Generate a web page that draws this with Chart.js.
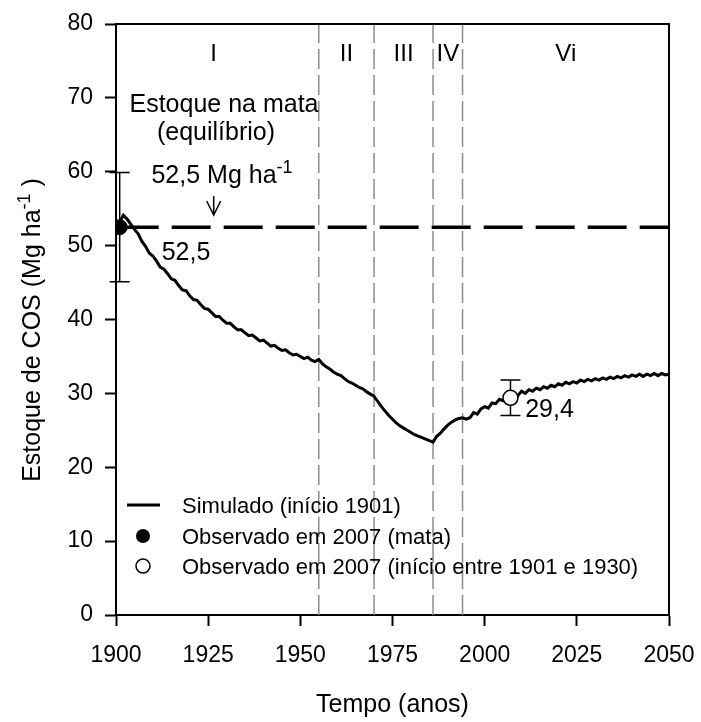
<!DOCTYPE html>
<html>
<head>
<meta charset="utf-8">
<script src="https://cdn.jsdelivr.net/npm/chart.js@4"></script>
<style>
  body { margin: 0; background: #fff; }
  #box { width: 701px; height: 722px; }
</style>
</head>
<body>
<div id="box"><canvas id="myChart"></canvas></div>
<script>
// Estoque de COS simulado (início 1901)
const anos = [
  1901, 1902, 1903, 1904, 1905, 1906, 1907, 1908, 1909, 1910,
  1911, 1912, 1913, 1914, 1915, 1916, 1917, 1918, 1919, 1920,
  1921, 1922, 1923, 1924, 1925, 1926, 1927, 1928, 1929, 1930,
  1931, 1932, 1933, 1934, 1935, 1936, 1937, 1938, 1939, 1940,
  1941, 1942, 1943, 1944, 1945, 1946, 1947, 1948, 1949, 1950,
  1951, 1952, 1953, 1954, 1955, 1956, 1957, 1958, 1959, 1960,
  1961, 1962, 1963, 1964, 1965, 1966, 1967, 1968, 1969, 1970,
  1971, 1972, 1973, 1974, 1975, 1976, 1977, 1978, 1979, 1980,
  1981, 1982, 1983, 1984, 1985, 1986, 1987, 1988, 1989, 1990,
  1991, 1992, 1993, 1994, 1995, 1996, 1997, 1998, 1999, 2000,
  2001, 2002, 2003, 2004, 2005, 2006, 2007, 2008, 2009, 2010,
  2011, 2012, 2013, 2014, 2015, 2016, 2017, 2018, 2019, 2020,
  2021, 2022, 2023, 2024, 2025, 2026, 2027, 2028, 2029, 2030,
  2031, 2032, 2033, 2034, 2035, 2036, 2037, 2038, 2039, 2040,
  2041, 2042, 2043, 2044, 2045, 2046, 2047, 2048, 2049, 2050
];
const estoqueSimulado = [
  53.2, 54.1, 53.6, 52.9, 52.2, 51.6, 50.6, 49.9, 49.0, 48.6,
  47.9, 47.1, 46.8, 46.2, 45.5, 45.3, 44.6, 44.0, 43.9, 43.2,
  42.7, 42.6, 42.0, 41.5, 41.4, 40.9, 40.4, 40.4, 39.9, 39.5,
  39.5, 39.0, 38.6, 38.6, 38.2, 37.8, 37.9, 37.5, 37.1, 37.2,
  36.8, 36.4, 36.5, 36.1, 35.8, 35.9, 35.5, 35.2, 35.3, 35.0,
  34.7, 34.9, 34.5, 34.3, 34.6, 34.0, 33.6, 33.3, 32.9, 32.6,
  32.4, 32.0, 31.6, 31.4, 31.1, 30.8, 30.6, 30.2, 29.9, 29.6,
  28.9, 28.2, 27.6, 27.0, 26.5, 26.0, 25.6, 25.3, 25.0, 24.7,
  24.4, 24.2, 24.0, 23.8, 23.6, 23.4, 24.2, 24.6, 25.2, 25.7,
  26.1, 26.4, 26.6, 26.7, 26.5, 26.7, 27.4, 27.2, 27.9, 28.2,
  28.0, 28.7, 28.6, 29.2, 29.0, 29.5, 29.3, 29.9, 29.7, 30.3,
  30.0, 30.5, 30.3, 30.7, 30.5, 30.9, 30.7, 31.1, 30.9, 31.3,
  31.1, 31.5, 31.3, 31.6, 31.4, 31.8, 31.6, 31.9, 31.7, 32.0,
  31.8, 32.1, 31.9, 32.2, 32.0, 32.3, 32.1, 32.4, 32.2, 32.5,
  32.3, 32.6, 32.3, 32.6, 32.4, 32.7, 32.4, 32.7, 32.5, 32.6
];

// observações
const obsMata = { ano: 1901, valor: 52.5, min: 45.1, max: 59.9 };
const obs2007 = { ano: 2007, valor: 29.4, min: 27.0, max: 31.8 };
const equilibrio = 52.5;

// períodos de uso
const divisas = [1955, 1970, 1986, 1994];
const periodos = ['I', 'II', 'III', 'IV', 'Vi'];
const periodoAnos = [1926.5, 1962.5, 1978, 1990, 2022];

const xTicks = [1900, 1925, 1950, 1975, 2000, 2025, 2050];
const yTicks = [0, 10, 20, 30, 40, 50, 60, 70, 80];

const FONTE = '"Liberation Sans", Arial, sans-serif';

const ctx = document.getElementById('myChart').getContext('2d');

// linhas verticais tracejadas dos períodos
const dsDivisas = divisas.map(a => ({
  data: [{ x: a, y: 0 }, { x: a, y: 80 }],
  showLine: true,
  borderColor: '#8c8c8c',
  borderWidth: 1.5,
  borderDash: [20, 6],
  pointRadius: 0,
  order: 10
}));

function texto(c, s, x, y, size, align) {
  c.font = size + 'px ' + FONTE;
  c.textAlign = align || 'center';
  c.fillText(s, x, y);
}

// texto com expoente (ex.: ha^-1)
function textoSup(c, base, sup, fim, cx, y, size) {
  c.font = size + 'px ' + FONTE;
  const w1 = c.measureText(base).width;
  const w3 = c.measureText(fim).width;
  c.font = Math.round(size * 0.7) + 'px ' + FONTE;
  const w2 = c.measureText(sup).width;
  let x = cx - (w1 + w2 + w3) / 2;
  c.textAlign = 'left';
  c.font = size + 'px ' + FONTE;
  c.fillText(base, x, y);
  x += w1;
  c.font = Math.round(size * 0.7) + 'px ' + FONTE;
  c.fillText(sup, x, y - size * 0.42);
  x += w2;
  c.font = size + 'px ' + FONTE;
  c.fillText(fim, x, y);
}

const barrasErro = {
  id: 'barrasErro',
  beforeDatasetsDraw(chart) {
    const c = chart.ctx, xs = chart.scales.x, ys = chart.scales.y;
    c.save();
    c.strokeStyle = '#000';
    c.lineWidth = 1.5;
    [obsMata, obs2007].forEach(o => {
      const px = xs.getPixelForValue(o.ano);
      const p1 = ys.getPixelForValue(o.min), p2 = ys.getPixelForValue(o.max);
      c.beginPath();
      c.moveTo(px, p1); c.lineTo(px, p2);
      c.moveTo(px - 10, p1); c.lineTo(px + 10, p1);
      c.moveTo(px - 10, p2); c.lineTo(px + 10, p2);
      c.stroke();
    });
    c.restore();
  }
};

const anotacoes = {
  id: 'anotacoes',
  afterDraw(chart) {
    const c = chart.ctx, xs = chart.scales.x, ys = chart.scales.y;
    const a = chart.chartArea;
    c.save();
    c.fillStyle = '#000';
    c.strokeStyle = '#000';

    // moldura
    c.lineWidth = 2;
    c.beginPath();
    c.moveTo(a.left, a.top); c.lineTo(a.right, a.top); c.lineTo(a.right, a.bottom);
    c.stroke();

    c.textBaseline = 'alphabetic';
    // períodos
    periodos.forEach((p, i) => texto(c, p, xs.getPixelForValue(periodoAnos[i]), 61, 24));

    texto(c, 'Estoque na mata', 224, 112, 25);
    texto(c, '(equilíbrio)', 216, 140, 25);
    textoSup(c, '52,5 Mg ha', '-1', '', 222, 183, 25);

    // seta
    const sx = xs.getPixelForValue(1926.5);
    c.lineWidth = 1.5;
    c.beginPath();
    c.moveTo(sx, 196); c.lineTo(sx, 215);
    c.moveTo(sx - 7, 201); c.lineTo(sx, 215); c.lineTo(sx + 7, 201);
    c.stroke();

    texto(c, '52,5', xs.getPixelForValue(1919), 260, 25);
    texto(c, '29,4', xs.getPixelForValue(2011), 417, 25, 'left');

    // legenda
    c.lineWidth = 3;
    c.beginPath(); c.moveTo(127, 505); c.lineTo(160, 505); c.stroke();
    c.beginPath(); c.arc(143, 536, 7, 0, Math.PI * 2); c.fill();
    c.lineWidth = 1.5;
    c.fillStyle = '#fff';
    c.beginPath(); c.arc(143, 566, 7, 0, Math.PI * 2); c.fill(); c.stroke();
    c.fillStyle = '#000';
    texto(c, 'Simulado (início 1901)', 182, 513, 22, 'left');
    texto(c, 'Observado em 2007 (mata)', 182, 544, 22, 'left');
    texto(c, 'Observado em 2007 (início entre 1901 e 1930)', 182, 574, 22, 'left');

    // títulos dos eixos
    texto(c, 'Tempo (anos)', (a.left + a.right) / 2, 712, 25);
    c.translate(40, 330);
    c.rotate(-Math.PI / 2);
    textoSup(c, 'Estoque de COS (Mg ha', '-1', ' )', 0, 0, 25);
    c.restore();
  }
};

new Chart(ctx, {
  type: 'scatter',
  data: {
    datasets: [
      {
        label: 'Simulado (início 1901)',
        data: anos.map((a, i) => ({ x: a, y: estoqueSimulado[i] })),
        showLine: true,
        borderColor: '#000',
        borderWidth: 3,
        pointRadius: 0,
        order: 2
      },
      {
        label: 'Estoque na mata',
        data: [{ x: 1901, y: equilibrio }, { x: 2050, y: equilibrio }],
        showLine: true,
        borderColor: '#000',
        borderWidth: 3.5,
        borderDash: [39, 13],
        pointRadius: 0,
        order: 3
      },
      {
        label: 'Observado em 2007 (mata)',
        data: [{ x: obsMata.ano, y: obsMata.valor }],
        pointRadius: 7.5,
        backgroundColor: '#000',
        borderColor: '#000',
        order: 0
      },
      {
        label: 'Observado em 2007 (início entre 1901 e 1930)',
        data: [{ x: obs2007.ano, y: obs2007.valor }],
        pointRadius: 7.5,
        backgroundColor: '#fff',
        borderColor: '#000',
        borderWidth: 1.5,
        order: 0
      },
      ...dsDivisas
    ]
  },
  options: {
    responsive: true,
    maintainAspectRatio: false,
    animation: false,
    layout: { padding: { top: 24, right: 32, left: 0, bottom: 0 } },
    plugins: { legend: { display: false }, tooltip: { enabled: false } },
    scales: {
      x: {
        type: 'linear',
        min: 1900,
        max: 2050,
        afterBuildTicks: s => { s.ticks = xTicks.map(v => ({ value: v })); },
        afterFit: s => { s.height = 107; s.paddingLeft = 0; s.paddingRight = 0; },
        ticks: { color: '#000', font: { size: 23, family: FONTE }, padding: 16, maxRotation: 0, callback: v => String(v) },
        grid: { drawOnChartArea: false, tickLength: 11, tickColor: '#000', tickWidth: 2 },
        border: { color: '#000', width: 2 }
      },
      y: {
        min: 0,
        max: 80,
        afterBuildTicks: s => { s.ticks = yTicks.map(v => ({ value: v })); },
        afterFit: s => { s.width = 116; s.paddingTop = 0; s.paddingBottom = 0; },
        ticks: { color: '#000', font: { size: 23, family: FONTE }, padding: 12, callback: v => String(v) },
        grid: { drawOnChartArea: false, tickLength: 11, tickColor: '#000', tickWidth: 2 },
        border: { color: '#000', width: 2 }
      }
    }
  },
  plugins: [barrasErro, anotacoes]
});
</script>
</body>
</html>
